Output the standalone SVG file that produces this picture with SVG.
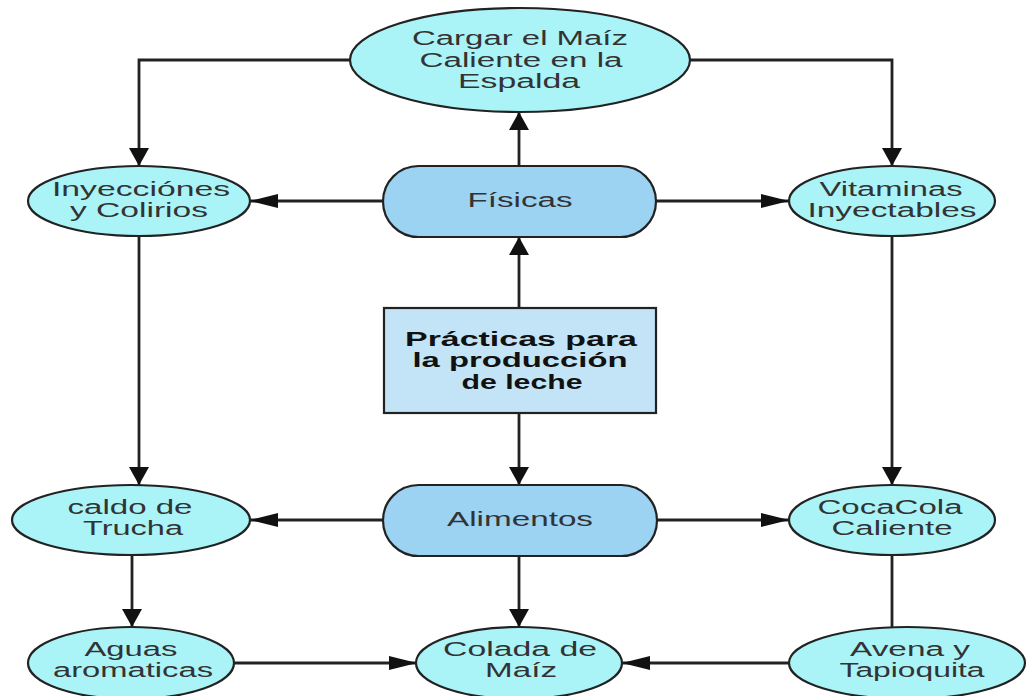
<svg xmlns="http://www.w3.org/2000/svg" width="1027" height="696" viewBox="0 0 1027 696">
  <style>
    .oval { fill: #aaf4f8; stroke: #222; stroke-width: 2.2; }
    .pill { fill: #9cd2f2; stroke: #222; stroke-width: 2.2; }
    .box  { fill: #c2e4f6; stroke: #222; stroke-width: 2.2; }
    .lbl  { font-family: "Liberation Sans", Arial, sans-serif; font-size: 20px; fill: #333; text-anchor: middle; }
    .bold { font-weight: bold; fill: #111; }
    .wire { fill: none; stroke: #222; stroke-width: 2.8; }
  </style>
  <defs>
    <marker id="arrH" markerUnits="userSpaceOnUse" markerWidth="30" markerHeight="16" refX="28" refY="8" orient="auto">
      <path d="M0,1 L28,8 L0,15 Z" fill="#111"/>
    </marker>
    <marker id="arrV" markerUnits="userSpaceOnUse" markerWidth="20" markerHeight="22" refX="18" refY="11" orient="auto">
      <path d="M0,1 L18,11 L0,21 Z" fill="#111"/>
    </marker>
  </defs>

  <rect width="1027" height="696" fill="#fff"/>

  <g id="connectors">
    <path class="wire" d="M350,60 H139 V166" marker-end="url(#arrV)"/>
    <path class="wire" d="M690,60 H892 V166" marker-end="url(#arrV)"/>
    <path class="wire" d="M519,166 V112" marker-end="url(#arrV)"/>
    <path class="wire" d="M383,201 H250" marker-end="url(#arrH)"/>
    <path class="wire" d="M656,201 H789" marker-end="url(#arrH)"/>
    <path class="wire" d="M519,308 V237" marker-end="url(#arrV)"/>
    <path class="wire" d="M519,413 V485" marker-end="url(#arrV)"/>
    <path class="wire" d="M139,237 V485" marker-end="url(#arrV)"/>
    <path class="wire" d="M892,237 V485" marker-end="url(#arrV)"/>
    <path class="wire" d="M383,520 H250" marker-end="url(#arrH)"/>
    <path class="wire" d="M657,520 H789" marker-end="url(#arrH)"/>
    <path class="wire" d="M519,556 V627" marker-end="url(#arrV)"/>
    <path class="wire" d="M132,555 V627" marker-end="url(#arrV)"/>
    <path class="wire" d="M233,663 H417" marker-end="url(#arrH)"/>
    <path class="wire" d="M892,555 V627"/>
    <path class="wire" d="M789,663 H622" marker-end="url(#arrH)"/>
  </g>

  <g id="cargar">
    <ellipse class="oval" cx="520" cy="60" rx="170" ry="52"/>
    <text class="lbl" x="520" y="45" textLength="216" lengthAdjust="spacingAndGlyphs">Cargar el Maíz</text>
    <text class="lbl" x="521" y="67" textLength="203" lengthAdjust="spacingAndGlyphs">Caliente en la</text>
    <text class="lbl" x="519" y="88" textLength="122" lengthAdjust="spacingAndGlyphs">Espalda</text>
  </g>

  <g id="fisicas">
    <rect class="pill" x="383" y="166" width="273" height="71" rx="35.5"/>
    <text class="lbl" x="520" y="207" textLength="105" lengthAdjust="spacingAndGlyphs">Físicas</text>
  </g>

  <g id="practicas">
    <rect class="box" x="384" y="308" width="272" height="105"/>
    <text class="lbl bold" x="521" y="346" textLength="232" lengthAdjust="spacingAndGlyphs">Prácticas para</text>
    <text class="lbl bold" x="520" y="367" textLength="215" lengthAdjust="spacingAndGlyphs">la producción</text>
    <text class="lbl bold" x="522" y="389" textLength="121" lengthAdjust="spacingAndGlyphs">de leche</text>
  </g>

  <g id="inyecciones">
    <ellipse class="oval" cx="139" cy="201" rx="111" ry="35"/>
    <text class="lbl" x="141" y="196" textLength="178" lengthAdjust="spacingAndGlyphs">Inyecciónes</text>
    <text class="lbl" x="139" y="217" textLength="138" lengthAdjust="spacingAndGlyphs">y Colirios</text>
  </g>

  <g id="vitaminas">
    <ellipse class="oval" cx="892" cy="201" rx="103" ry="35"/>
    <text class="lbl" x="891" y="196" textLength="143" lengthAdjust="spacingAndGlyphs">Vitaminas</text>
    <text class="lbl" x="892" y="217" textLength="169" lengthAdjust="spacingAndGlyphs">Inyectables</text>
  </g>

  <g id="caldo">
    <ellipse class="oval" cx="131" cy="520" rx="119" ry="35"/>
    <text class="lbl" x="130" y="514" textLength="125" lengthAdjust="spacingAndGlyphs">caldo de</text>
    <text class="lbl" x="133" y="535" textLength="100" lengthAdjust="spacingAndGlyphs">Trucha</text>
  </g>

  <g id="alimentos">
    <rect class="pill" x="383" y="485" width="274" height="71" rx="35.5"/>
    <text class="lbl" x="520" y="526" textLength="146" lengthAdjust="spacingAndGlyphs">Alimentos</text>
  </g>

  <g id="cocacola">
    <ellipse class="oval" cx="892" cy="520" rx="103" ry="35"/>
    <text class="lbl" x="890" y="514" textLength="145" lengthAdjust="spacingAndGlyphs">CocaCola</text>
    <text class="lbl" x="892" y="535" textLength="121" lengthAdjust="spacingAndGlyphs">Caliente</text>
  </g>

  <g id="aguas">
    <ellipse class="oval" cx="131" cy="663" rx="103" ry="36"/>
    <text class="lbl" x="131" y="656" textLength="93" lengthAdjust="spacingAndGlyphs">Aguas</text>
    <text class="lbl" x="133" y="677" textLength="160" lengthAdjust="spacingAndGlyphs">aromaticas</text>
  </g>

  <g id="colada">
    <ellipse class="oval" cx="519" cy="663" rx="103" ry="36"/>
    <text class="lbl" x="520" y="656" textLength="154" lengthAdjust="spacingAndGlyphs">Colada de</text>
    <text class="lbl" x="521" y="677" textLength="72" lengthAdjust="spacingAndGlyphs">Maíz</text>
  </g>

  <g id="avena">
    <ellipse class="oval" cx="907" cy="663" rx="118" ry="36"/>
    <text class="lbl" x="910" y="656" textLength="120" lengthAdjust="spacingAndGlyphs">Avena y</text>
    <text class="lbl" x="912" y="677" textLength="145" lengthAdjust="spacingAndGlyphs">Tapioquita</text>
  </g>
</svg>
